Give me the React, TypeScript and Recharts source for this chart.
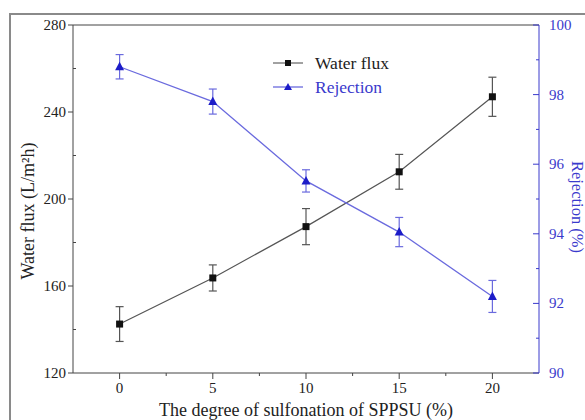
import { ErrorBar, Legend, Line, LineChart, ReferenceLine, XAxis, YAxis } from "recharts";

const sulfonation = [0, 5, 10, 15, 20];
const waterFlux = [142.5, 163.7, 187.3, 212.5, 247];
const waterFluxErr = [8, 6, 8.3, 8, 9];
const rejection = [98.8, 97.8, 95.52, 94.05, 92.2];
const rejectionErr = [0.35, 0.36, 0.32, 0.42, 0.46];

const xTicks = [0, 2.5, 5, 7.5, 10, 12.5, 15, 17.5, 20];
const leftTicks = [120, 140, 160, 180, 200, 220, 240, 260, 280];
const rightTicks = [90, 91, 92, 93, 94, 95, 96, 97, 98, 99, 100];

const data = sulfonation.map((s, i) => ({
  s,
  flux: waterFlux[i],
  fluxErr: waterFluxErr[i],
  rej: rejection[i],
  rejErr: rejectionErr[i],
}));

const FONT = "'Liberation Serif', 'Times New Roman', serif";
const GRAY = "#444";
const BLUE = "#3a3acc";
const BLUE_LINE = "#6a6ade";
const txt = (size: number) => ({ fontFamily: FONT, fontSize: size });

const BottomTick = (props: any) => {
  const { x, y, payload } = props;
  const axisY = y - 6;
  const v = payload.value;
  const major = v % 5 === 0;
  return (
    <g>
      <line x1={x} x2={x} y1={axisY} y2={axisY + (major ? 6 : 3)} stroke={GRAY} />
      {major && (
        <text x={x} y={axisY + 20} textAnchor="middle" style={txt(15)} fill="#222">
          {v}
        </text>
      )}
    </g>
  );
};

const LeftTick = (props: any) => {
  const { x, y, payload } = props;
  const axisX = x + 6;
  const v = payload.value;
  const major = v % 40 === 0;
  return (
    <g>
      <line x1={axisX} x2={major ? axisX - 5 : axisX + 3} y1={y} y2={y} stroke={GRAY} />
      {major && (
        <text x={axisX - 7} y={y + 5} textAnchor="end" style={txt(15)} fill="#222">
          {v}
        </text>
      )}
    </g>
  );
};

const RightTick = (props: any) => {
  const { x, y, payload } = props;
  const axisX = x - 6;
  const v = payload.value;
  const major = v % 2 === 0;
  return (
    <g>
      <line x1={axisX} x2={axisX - (major ? 6 : 3)} y1={y} y2={y} stroke={BLUE} />
      {major && (
        <text x={axisX + 10} y={y + 5} textAnchor="start" style={txt(15)} fill={BLUE}>
          {v}
        </text>
      )}
    </g>
  );
};

const SquareDot = (props: any) => {
  const { cx, cy } = props;
  if (cx == null || cy == null) return null;
  return <rect x={cx - 3.5} y={cy - 3.5} width={7} height={7} fill="#111" />;
};

const TriangleDot = (props: any) => {
  const { cx, cy } = props;
  if (cx == null || cy == null) return null;
  return <path d={`M${cx},${cy - 5} L${cx + 4.5},${cy + 3.5} L${cx - 4.5},${cy + 3.5} Z`} fill="#1c1cc8" />;
};

const LegendBox = () => (
  <svg width={140} height={50}>
    <line x1={0} x2={30} y1={13} y2={13} stroke={GRAY} />
    <rect x={12} y={10} width={6} height={6} fill="#111" />
    <text x={42} y={18.5} style={txt(17.5)} fill="#222">Water flux</text>
    <line x1={0} x2={30} y1={37} y2={37} stroke={BLUE_LINE} strokeWidth={1.3} />
    <path d="M15,33 L19,40 L11,40 Z" fill="#1c1cc8" />
    <text x={42} y={42.5} style={txt(17.5)} fill={BLUE}>Rejection</text>
  </svg>
);

const App = () => {
  return (
    <div style={{ position: "absolute", left: 0, top: 0, width: 585, height: 420, overflow: "hidden", background: "#fff" }}>
      <div
        style={{
          position: "absolute",
          left: 9,
          top: 13,
          width: 620,
          height: 440,
          border: "2px solid #8a8a8a",
        }}
      />
      <div style={{ position: "absolute", left: 0, top: 0 }}>
        <LineChart width={585} height={420} data={data} margin={{ top: 25, right: 0, bottom: 0, left: 0 }}>
          <XAxis
            dataKey="s"
            type="number"
            domain={[-2.5, 22.5]}
            ticks={xTicks}
            interval={0}
            height={47}
            tickSize={0}
            tickMargin={6}
            tickLine={false}
            tick={<BottomTick />}
            stroke={GRAY}
            label={{
              content: (p: any) => {
                const vb = p.viewBox;
                return (
                  <text x={vb.x + vb.width / 2} y={vb.y + 43} textAnchor="middle" style={txt(18)} fill="#222">
                    The degree of sulfonation of SPPSU (%)
                  </text>
                );
              },
            }}
          />
          <YAxis
            yAxisId="left"
            domain={[120, 280]}
            ticks={leftTicks}
            interval={0}
            width={73}
            tickSize={0}
            tickMargin={6}
            tickLine={false}
            tick={<LeftTick />}
            stroke={GRAY}
            label={{
              content: (p: any) => {
                const vb = p.viewBox;
                const cx = vb.x + 28;
                const cy = vb.y + vb.height / 2 + 12;
                return (
                  <text x={cx} y={cy} textAnchor="middle" dominantBaseline="central" transform={`rotate(-90, ${cx}, ${cy})`} style={txt(18)} fill="#222">
                    Water flux (L/m²h)
                  </text>
                );
              },
            }}
          />
          <YAxis
            yAxisId="right"
            orientation="right"
            domain={[90, 100]}
            ticks={rightTicks}
            interval={0}
            width={46}
            tickSize={0}
            tickMargin={6}
            tickLine={false}
            tick={<RightTick />}
            stroke={BLUE}
            label={{
              content: (p: any) => {
                const vb = p.viewBox;
                const cx = vb.x + 38;
                const cy = vb.y + vb.height / 2 + 8;
                return (
                  <text x={cx} y={cy} textAnchor="middle" dominantBaseline="central" transform={`rotate(90, ${cx}, ${cy})`} style={txt(16.5)} fill={BLUE}>
                    Rejection (%)
                  </text>
                );
              },
            }}
          />
          <ReferenceLine yAxisId="left" y={280} stroke={GRAY} />
          <Legend
            layout="vertical"
            align="center"
            verticalAlign="middle"
            content={() => <LegendBox />}
            wrapperStyle={{ position: "absolute", left: 273, top: 50, width: 140, height: 50 }}
          />
          <Line
            yAxisId="left"
            dataKey="flux"
            stroke="#555"
            strokeWidth={1.2}
            dot={<SquareDot />}
            activeDot={false}
            isAnimationActive={false}
          >
            <ErrorBar dataKey="fluxErr" width={4} stroke="#555" strokeWidth={1.2} direction="y" isAnimationActive={false} />
          </Line>
          <Line
            yAxisId="right"
            dataKey="rej"
            stroke={BLUE_LINE}
            strokeWidth={1.3}
            dot={<TriangleDot />}
            activeDot={false}
            isAnimationActive={false}
          >
            <ErrorBar dataKey="rejErr" width={4} stroke={BLUE_LINE} strokeWidth={1.2} direction="y" isAnimationActive={false} />
          </Line>
        </LineChart>
      </div>
    </div>
  );
};

export default App;
